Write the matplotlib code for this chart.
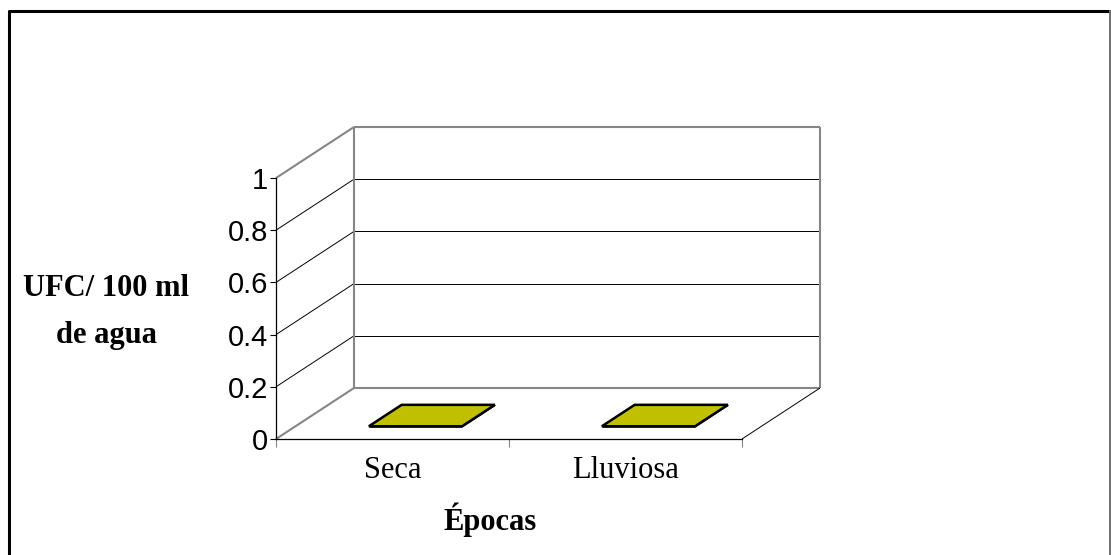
import matplotlib
matplotlib.use("Agg")
import matplotlib.pyplot as plt
from matplotlib.patches import Polygon
from matplotlib.lines import Line2D

# data
categories = ["Seca", "Lluviosa"]
ufc_values = [0, 0]
y_ticks = [0, 0.2, 0.4, 0.6, 0.8, 1]
y_tick_labels = ["0", "0.2", "0.4", "0.6", "0.8", "1"]

# oblique depth offset (data units of the front plane)
DX = 78 / 466 * 2
DY = 51 / 261
BAR_W = 0.40
BAR_SHIFT = 0.015
BAR_D0, BAR_D1 = 0.25, 0.67
GRAY = "#868686"
BAR_COLOR = "#C0C000"

serif = "Liberation Serif"
sans = "Liberation Sans"


def proj(x, v, d):
    return x + d * DX, v + d * DY


def line3(ax, p0, p1, **kw):
    a = proj(*p0)
    b = proj(*p1)
    ax.plot([a[0], b[0]], [a[1], b[1]], clip_on=False, solid_capstyle="butt", **kw)


fig = plt.figure(figsize=(11.11, 5.55), dpi=100)
fig.patch.set_facecolor("white")
# outer frame: black left/top, grey thin right edge
fl, ft, fr = 9 / 1111, 1 - 11 / 555, 1109.5 / 1111
fig.lines.append(Line2D([fl, fl, fr], [-0.01, ft, ft], transform=fig.transFigure,
                        color="black", linewidth=2.2))
fig.lines.append(Line2D([fr, fr], [ft, -0.01], transform=fig.transFigure,
                        color="#707070", linewidth=1.4))

ax = fig.add_axes([276 / 1111, 116 / 555, 466 / 1111, 261 / 555])
ax.set_xlim(0, len(categories))
ax.set_ylim(0, 1)
ax.patch.set_visible(False)
for s in ["top", "right"]:
    ax.spines[s].set_visible(False)
ax.spines["left"].set_linewidth(0.9)
ax.spines["bottom"].set_linewidth(0.9)

xmax = len(categories)
# gridlines on side and back walls
for v in y_ticks[1:-1]:
    line3(ax, (0, v, 0), (0, v, 1), color="black", lw=0.7)
    line3(ax, (0, v, 1), (xmax, v, 1), color="black", lw=0.7)
# walls outline
line3(ax, (0, 1, 0), (0, 1, 1), color=GRAY, lw=1.5)
line3(ax, (0, 0, 0), (0, 0, 1), color=GRAY, lw=1.5)
line3(ax, (0, 0, 1), (0, 1, 1), color=GRAY, lw=1.5)
line3(ax, (0, 1, 1), (xmax, 1, 1), color=GRAY, lw=1.5)
line3(ax, (xmax, 1, 1), (xmax, 0, 1), color=GRAY, lw=1.5)
line3(ax, (0, 0, 1), (xmax, 0, 1), color=GRAY, lw=1.5)
line3(ax, (xmax, 0, 0), (xmax, 0, 1), color="black", lw=0.7)

# bars (3D look: front, side, top faces)
for i, val in enumerate(ufc_values):
    x0 = i + 0.5 + BAR_SHIFT - BAR_W / 2
    x1 = i + 0.5 + BAR_SHIFT + BAR_W / 2
    front = [proj(x0, 0, BAR_D0), proj(x1, 0, BAR_D0), proj(x1, val, BAR_D0), proj(x0, val, BAR_D0)]
    side = [proj(x1, 0, BAR_D0), proj(x1, 0, BAR_D1), proj(x1, val, BAR_D1), proj(x1, val, BAR_D0)]
    top = [proj(x0, val, BAR_D0), proj(x1, val, BAR_D0), proj(x1, val, BAR_D1), proj(x0, val, BAR_D1)]
    for face in (front, side, top):
        ax.add_patch(Polygon(face, closed=True, facecolor=BAR_COLOR,
                             edgecolor="black", linewidth=1.8, clip_on=False,
                             joinstyle="miter"))

# y axis
ax.set_yticks(y_ticks)
ax.set_yticklabels(y_tick_labels, fontfamily=sans, fontsize=21)
ax.tick_params(axis="y", direction="out", length=4.5, width=0.8, pad=1)

# x axis: boundaries as major ticks, category names on minor ticks
ax.set_xticks(range(xmax + 1))
ax.set_xticklabels([])
ax.tick_params(axis="x", which="major", direction="out", length=6, width=0.8, color=GRAY)
ax.set_xticks([i + 0.5 for i in range(xmax)], minor=True)
ax.set_xticklabels(categories, minor=True, fontfamily=serif, fontsize=22)
ax.tick_params(axis="x", which="minor", length=0, pad=12)

fig.text(490 / 1111, 1 - 520 / 555, "Épocas", ha="center", va="center",
         fontfamily=serif, fontweight="bold", fontsize=22)
fig.text(106 / 1111, 1 - 312 / 555, "UFC/ 100 ml\nde agua", ha="center", va="center",
         fontfamily=serif, fontweight="bold", fontsize=22, linespacing=1.78)

fig.savefig("out.png", dpi=100)
